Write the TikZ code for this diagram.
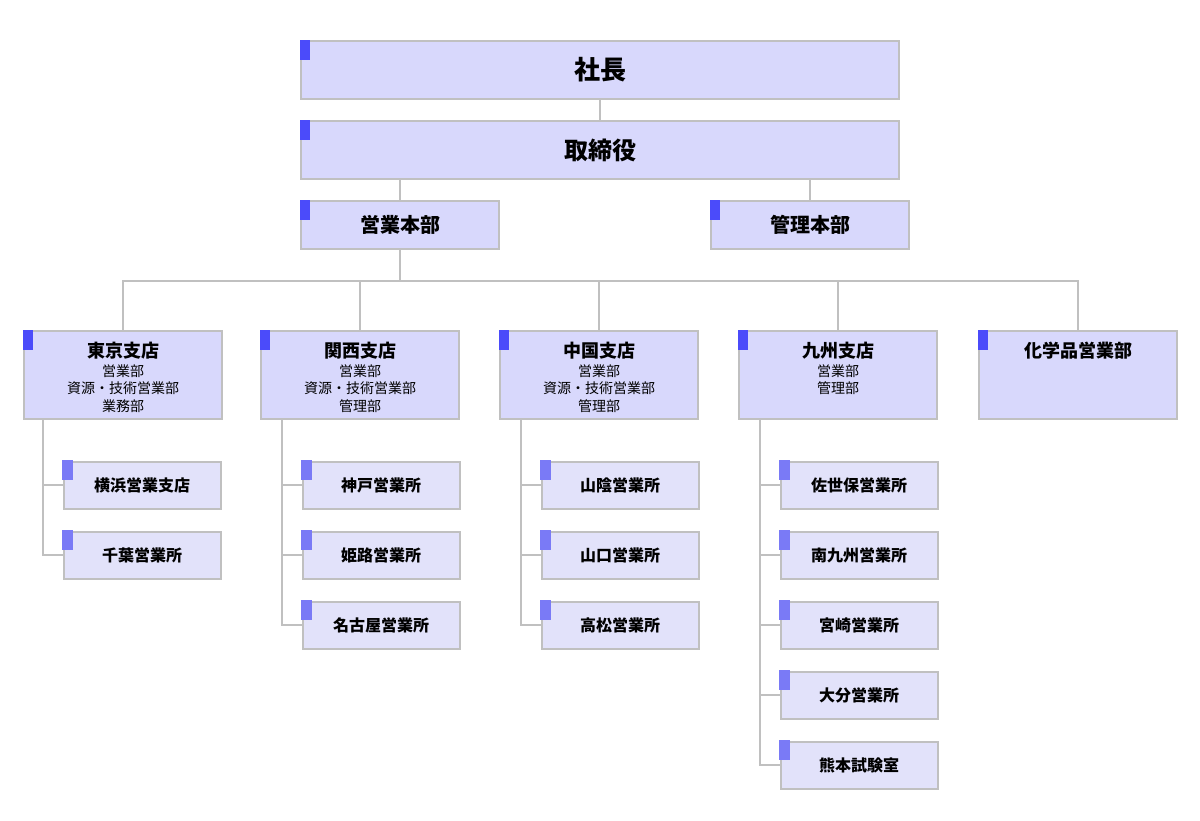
\documentclass[tikz,border=0pt]{standalone}
\usepackage{fontspec}
\setmainfont{Noto Sans CJK JP}
\definecolor{mainfill}{RGB}{216,216,252}
\definecolor{subfill}{RGB}{226,226,250}
\definecolor{mainacc}{RGB}{75,75,250}
\definecolor{subacc}{RGB}{122,122,246}
\definecolor{edge}{RGB}{192,192,192}
\tikzset{
  mainbox/.style={draw=edge, fill=mainfill, line width=2pt, inner sep=0pt},
  subbox/.style={draw=edge, fill=subfill, line width=2pt, inner sep=0pt, minimum width=157pt, minimum height=47pt, font=\fontsize{16}{18}\selectfont\bfseries},
  link/.style={draw=edge, line width=2pt},
  brtitle/.style={font=\fontsize{18}{20}\selectfont\bfseries, inner sep=0pt},
  brlist/.style={font=\fontsize{14}{17.5}\selectfont, align=center, inner sep=0pt, anchor=north},
}
\newcommand{\mainacc}[1]{\fill[mainacc] ([xshift=-0.5pt,yshift=0.5pt]#1.north west) rectangle ++(10.5pt,-20pt);}
\newcommand{\subaccent}[1]{\fill[subacc] ([xshift=-0.5pt,yshift=0.5pt]#1.north west) rectangle ++(10.5pt,-20pt);}
\begin{document}
\begin{tikzpicture}[x=1pt,y=-1pt]
\useasboundingbox (0,0) rectangle (1200,820);
% top boxes
\node[mainbox, minimum width=598pt, minimum height=58pt, font=\fontsize{26}{28}\selectfont\bfseries] (pres) at (600,70) {社長};
\node[mainbox, minimum width=598pt, minimum height=58pt, font=\fontsize{24}{26}\selectfont\bfseries] (board) at (600,150) {取締役};
\node[mainbox, minimum width=198pt, minimum height=48pt, font=\fontsize{20}{22}\selectfont\bfseries] (sales) at (400,225) {営業本部};
\node[mainbox, minimum width=198pt, minimum height=48pt, font=\fontsize{20}{22}\selectfont\bfseries] (admin) at (810,225) {管理本部};
\mainacc{pres}\mainacc{board}\mainacc{sales}\mainacc{admin}
% branches
\foreach \n/\x in {tokyo/123, kansai/360, chugoku/599, kyushu/838, chem/1078}{
  \node[mainbox, minimum width=198pt, minimum height=88pt] (\n) at (\x,375) {};
  \mainacc{\n}
}
\node[brtitle] (tokyoT) at ([yshift=-21pt]tokyo.north) {東京支店};
\node[brlist] (tokyoL) at ([yshift=-34.5pt]tokyo.north) {営業部\\資源・技術営業部\\業務部};
\node[brtitle] (kansaiT) at ([yshift=-21pt]kansai.north) {関西支店};
\node[brlist] (kansaiL) at ([yshift=-34.5pt]kansai.north) {営業部\\資源・技術営業部\\管理部};
\node[brtitle] (chugokuT) at ([yshift=-21pt]chugoku.north) {中国支店};
\node[brlist] (chugokuL) at ([yshift=-34.5pt]chugoku.north) {営業部\\資源・技術営業部\\管理部};
\node[brtitle] (kyushuT) at ([yshift=-21pt]kyushu.north) {九州支店};
\node[brlist] (kyushuL) at ([yshift=-34.5pt]kyushu.north) {営業部\\管理部};
\node[brtitle] (chemT) at ([yshift=-21pt]chem.north) {化学品営業部};
% sub offices
\node[subbox] (yokohama) at (142,485) {横浜営業支店};
\node[subbox] (chiba) at (142,555) {千葉営業所};
\node[subbox] (kobe) at (381,485) {神戸営業所};
\node[subbox] (himeji) at (381,555) {姫路営業所};
\node[subbox] (nagoya) at (381,625) {名古屋営業所};
\node[subbox] (sanin) at (620,485) {山陰営業所};
\node[subbox] (yamaguchi) at (620,555) {山口営業所};
\node[subbox] (takamatsu) at (620,625) {高松営業所};
\node[subbox] (sasebo) at (859,485) {佐世保営業所};
\node[subbox] (minami) at (859,555) {南九州営業所};
\node[subbox] (miyazaki) at (859,625) {宮崎営業所};
\node[subbox] (oita) at (859,695) {大分営業所};
\node[subbox] (kumamoto) at (859,765) {熊本試験室};
\foreach \n in {yokohama,chiba,kobe,himeji,nagoya,sanin,yamaguchi,takamatsu,sasebo,minami,miyazaki,oita,kumamoto}{\subaccent{\n}}
% connectors
\coordinate (bus) at (400,281);
\path[link] (pres.south) -- (board.north);
\path[link] ([xshift=-200pt]board.south) -- (sales.north);
\path[link] ([xshift=210pt]board.south) -- (admin.north);
\path[link] (sales.south) -- (bus);
\foreach \n in {tokyo,kansai,chugoku,kyushu,chem}{\path[link] (bus) -| (\n.north);}
\coordinate (tokyoD) at ([xshift=20pt]tokyo.south west);
\coordinate (kansaiD) at ([xshift=22pt]kansai.south west);
\coordinate (chugokuD) at ([xshift=22pt]chugoku.south west);
\coordinate (kyushuD) at ([xshift=22pt]kyushu.south west);
\foreach \b/\s in {tokyoD/yokohama, tokyoD/chiba, kansaiD/kobe, kansaiD/himeji, kansaiD/nagoya, chugokuD/sanin, chugokuD/yamaguchi, chugokuD/takamatsu, kyushuD/sasebo, kyushuD/minami, kyushuD/miyazaki, kyushuD/oita, kyushuD/kumamoto}{\path[link] (\b) |- (\s.west);}
\end{tikzpicture}
\end{document}
